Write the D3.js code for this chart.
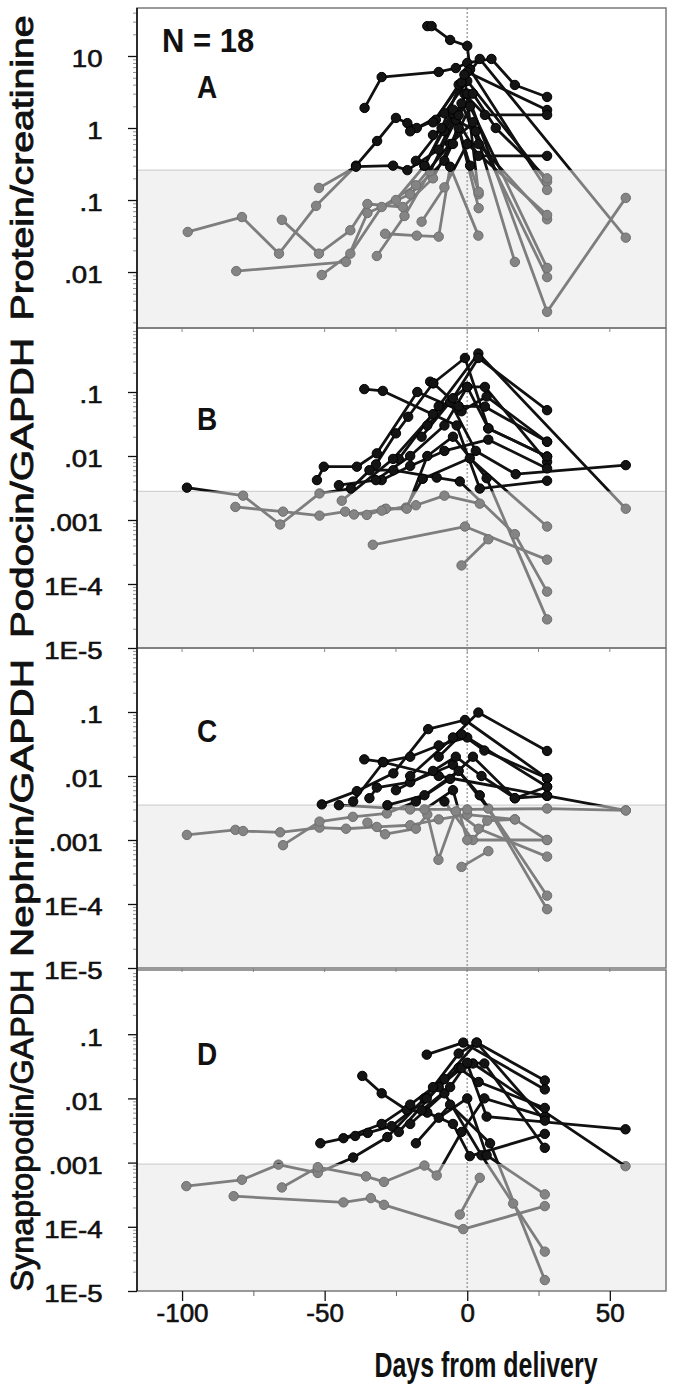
<!DOCTYPE html>
<html>
<head>
<meta charset="utf-8">
<script src="https://cdn.jsdelivr.net/npm/d3@7"></script>
<style>
  body { margin: 0; background: #fff; }
  svg { display: block; font-family: "Liberation Sans", Arial, Helvetica, sans-serif; }
</style>
</head>
<body>
<svg id="chart" width="675" height="1394"></svg>
<script>
// ---- data: one entry per patient, [day from delivery, ratio] ----
const proteinSeries = [
  [[-98, 0.036], [-79, 0.058], [-66, 0.018], [-53, 0.083], [-39, 0.30], [-31.6, 0.66], [-25, 1.38], [-21, 1.17], [-17.7, 1.0], [-8, 1.6], [0, 4.5], [28, 0.18]],
  [[-52, 0.147], [-39, 0.29], [-26, 0.30], [-21, 0.26], [-10, 0.5], [-2, 2.2], [4, 0.6], [28, 0.054]],
  [[-65, 0.053], [-52, 0.018], [-41, 0.038], [-35, 0.088], [-22.6, 0.08], [-12, 0.2], [-3, 1.0], [4, 0.077]],
  [[-81, 0.0103], [-42.5, 0.0138], [-35, 0.066], [-20, 0.12], [-8, 0.35], [1, 2.0], [28, 0.0114]],
  [[-51, 0.0091], [-41, 0.018], [-30, 0.08], [-18, 0.16], [-6, 0.6], [2, 1.2], [16.7, 0.0138]],
  [[-31.7, 0.0167], [-22, 0.06], [-13, 0.25], [-4, 1.3], [3, 0.9], [28, 0.0085]],
  [[-28.8, 0.034], [-17.7, 0.032], [-10, 0.031], [-6, 0.29], [3.9, 0.032]],
  [[-36, 1.9], [-30, 5.1], [-10, 6.0], [-4, 6.8], [0, 8.0], [8.5, 9.1], [16.7, 3.96], [28, 2.7]],
  [[-14, 26], [-12.5, 26], [-6, 16.7], [0, 13.8], [1, 6.5], [28, 0.138]],
  [[-20, 0.9], [-11, 1.3], [-3, 4], [0, 6], [28, 1.78]],
  [[-15, 0.3], [-5, 1.6], [3.9, 0.41], [28, 0.41]],
  [[-5, 0.6], [-1, 3], [6.2, 1.52], [28, 1.52]],
  [[-8, 0.9], [0, 3], [28, 0.0028], [55.6, 0.107]],
  [[-12, 1.2], [-2, 4.3], [4.4, 9.1], [55.6, 0.030]],
  [[-16, 0.05], [-8, 0.15], [0, 0.6], [28, 0.062]],
  [[-18, 0.35], [-9, 1.0], [-1, 5.5], [4, 0.12]],
  [[-25, 0.1], [-15, 0.3], [-5, 1.8], [1, 0.3], [4, 0.13]],
  [[-12, 0.8], [-3, 1.5], [2, 3], [10, 1.0], [28, 0.2]]
];

const podocinSeries = [
  [[-98.3, 0.0032], [-78.6, 0.0024], [-65.6, 0.00085], [-51.8, 0.0026], [-40.8, 0.0031], [-32, 0.0074], [-25, 0.0226], [-20.7, 0.041], [-12, 0.137], [-0.8, 0.34], [7.4, 0.027], [28, 0.0098]],
  [[-81.3, 0.0016], [-64.6, 0.00135], [-51.8, 0.00117], [-42.8, 0.00135], [-35.2, 0.0012], [-28.8, 0.00148], [-21.5, 0.00156], [-15.6, 0.0044], [0.9, 0.0092], [28, 0.00079]],
  [[-52.7, 0.0042], [-50.3, 0.0068], [-38.7, 0.0068], [-31.7, 0.011], [-17.5, 0.1], [-2, 0.05], [6.8, 0.085], [28, 0.0167]],
  [[-36.1, 0.111], [-29.6, 0.104], [-3.7, 0.03], [4.4, 0.0031], [28, 0.0041]],
  [[-33.1, 0.00041], [-0.8, 0.00079], [28, 0.00024]],
  [[-2, 0.000195], [7.4, 0.0005]],
  [[-34.3, 0.006], [-25.9, 0.006], [-10.7, 0.0046], [-2.6, 0.004], [16.7, 0.0006], [28, 0.000076]],
  [[-39.7, 0.00122], [-28.5, 0.0015], [-21.2, 0.0015], [-14, 0.01], [-5, 0.02], [6.8, 0.0045], [28, 0.000028]],
  [[-16, 0.02], [-6, 0.07], [3, 0.012], [17, 0.0052], [55.6, 0.0072]],
  [[-24, 0.009], [-10, 0.06], [3.9, 0.40], [55.6, 0.0015]],
  [[-14, 0.03], [-5, 0.08], [3.9, 0.34], [28, 0.052]],
  [[-44, 0.002], [-26, 0.009], [-12, 0.045], [0, 0.12], [6.2, 0.12], [28, 0.0081]],
  [[-30, 0.0042], [-20, 0.007], [-8, 0.012], [7.4, 0.018], [28, 0.0064]],
  [[-30, 0.0014], [-18, 0.0017], [-8, 0.0024], [4.4, 0.0018]],
  [[-13, 0.145], [-11.9, 0.137], [-3, 0.06], [6.2, 0.059], [28, 0.0167]],
  [[-45, 0.0035], [-32, 0.0042], [-20, 0.01], [-8, 0.03], [0, 0.12], [7.4, 0.027], [28, 0.0098]]
];

const nephrinSeries = [
  [[-98.3, 0.0012], [-81.3, 0.00144], [-78.6, 0.00138], [-65.6, 0.00132], [-51.8, 0.00156], [-42.5, 0.0015], [-31.7, 0.0016], [-20, 0.0017], [-10, 0.0021], [0, 0.0025], [16.7, 0.0021], [28, 0.001]],
  [[-64.6, 0.00083], [-51.8, 0.00194], [-40.1, 0.0023], [-28.2, 0.0026], [-18, 0.004], [-6, 0.009], [2, 0.02], [16.7, 0.0045], [28, 0.0049]],
  [[-51, 0.0036], [-38.7, 0.0058], [-25.9, 0.011], [-13.7, 0.054], [-0.8, 0.075], [28, 0.0092]],
  [[-36.1, 0.0182], [-29.6, 0.0166], [-20, 0.02], [-10, 0.03], [0, 0.04], [28, 0.0068]],
  [[-35, 0.00187], [-28.8, 0.00123], [-18, 0.0015], [-14, 0.0025], [-10.1, 0.00049], [-4, 0.0028], [4, 0.0015], [28, 0.00055]],
  [[-2, 0.00038], [7.4, 0.00067]],
  [[-34.3, 0.0045], [-31.7, 0.0066], [-20, 0.008], [-5, 0.015], [4.4, 0.005], [28, 0.000135]],
  [[-28, 0.0035], [-15, 0.005], [-3, 0.012], [7.4, 0.0031], [28, 0.000083]],
  [[-40, 0.004], [-29.4, 0.0164], [-10, 0.01], [28, 0.0049], [55.6, 0.0029]],
  [[-45, 0.0035], [-20, 0.003], [0, 0.003], [28, 0.0031], [55.6, 0.0029]],
  [[-20, 0.01], [-5, 0.04], [3.9, 0.098], [28, 0.0246]],
  [[-10, 0.02], [-2, 0.045], [6, 0.025], [28, 0.0092]],
  [[-8, 0.004], [2, 0.001], [7, 0.002], [16.7, 0.0021]],
  [[-15, 0.003], [-5, 0.006], [0, 0.001], [28, 0.001]],
  [[-25, 0.006], [-12, 0.012], [-4, 0.02], [5, 0.01], [16.7, 0.0045], [28, 0.0068]]
];

const synaptopodinSeries = [
  [[-98.5, 0.00043], [-79, 0.00054], [-66.2, 0.00093], [-52.4, 0.00069], [-40, 0.0012], [-28, 0.0025], [-15, 0.01], [-3, 0.05], [3.3, 0.074], [27.2, 0.019]],
  [[-81.9, 0.0003], [-43.4, 0.00024], [-33.8, 0.00028], [-29.2, 0.00022], [-1.4, 0.000092], [27.2, 0.00021]],
  [[-65, 0.00041], [-52.4, 0.00085], [-35.5, 0.00061], [-29.2, 0.0005], [-15, 0.0009], [-10.7, 0.00063], [-2, 0.003], [6, 0.01], [27.2, 0.0052]],
  [[-51.5, 0.002], [-39.3, 0.0026], [-34.9, 0.0029], [-26.5, 0.0037], [-14.2, 0.01], [-3, 0.03], [4, 0.018], [27.2, 0.0071]],
  [[-36.8, 0.0224], [-30, 0.012], [-21.2, 0.0066], [-14, 0.006], [-5, 0.004], [0.9, 0.00126], [27.2, 0.0028]],
  [[-2.6, 0.000155], [4.4, 0.00058]],
  [[-14.2, 0.048], [-1.4, 0.074], [27.2, 0.0138]],
  [[-20, 0.004], [-8, 0.012], [5, 0.0013], [16.1, 0.00023], [27.2, 0.000041]],
  [[-18, 0.002], [-6, 0.008], [8, 0.002], [27.2, 0.0000148]],
  [[-24, 0.003], [-10, 0.015], [0, 0.035], [6.8, 0.0052], [55.5, 0.0033]],
  [[-12, 0.015], [-2, 0.03], [2, 0.035], [55.5, 0.00088]],
  [[-10, 0.005], [0, 0.01], [6.8, 0.0013], [27.2, 0.00032]],
  [[-43.4, 0.0024], [-30, 0.004], [-20, 0.008], [-8, 0.02], [3.3, 0.074], [27.2, 0.0045]],
  [[-16, 0.0065], [-6, 0.015], [0, 0.036], [6, 0.035], [27.2, 0.0017]]
];

const panelTitles = ["Protein/creatinine", "Podocin/GAPDH", "Nephrin/GAPDH", "Synaptopodin/GAPDH"];
const panelLetters = ["A", "B", "C", "D"];
const thresholds = [0.26, 0.0028, 0.0035, 0.00095];
const yTickValues = [[10, 1, 0.1, 0.01], [0.1, 0.01, 0.001, 1e-4, 1e-5], [0.1, 0.01, 0.001, 1e-4, 1e-5], [0.1, 0.01, 0.001, 1e-4, 1e-5]];
const yTickLabels = [["10", "1", ".1", ".01"], [".1", ".01", ".001", "1E-4", "1E-5"], [".1", ".01", ".001", "1E-4", "1E-5"], [".1", ".01", ".001", "1E-4", "1E-5"]];
const xTicks = [-100, -50, 0, 50];
const xMinorTicks = [-75, -25, 25];
const xTickLabels = ["-100", "-50", "0", "50"];
const sampleCount = "N = 18";
const xTitle = "Days from delivery";

// ---- layout ----
const svg = d3.select("#chart");
const plotLeft = 137, plotRight = 666;
const panelBoxes = [[8, 328], [328, 648], [648, 968], [970, 1291]];
const panelDomains = [[0.00167, 46.4], [1e-5, 1], [1e-5, 1], [1e-5, 1]];
const titleLengths = [305, 300, 298, 322];
const letterBaselines = [98, 430, 742, 1065];
const panelSeries = [proteinSeries, podocinSeries, nephrinSeries, synaptopodinSeries];
const ink = "#111";

const x = d3.scaleLinear().domain([-115.8, 69.7]).range([plotLeft, plotRight]);
const defs = svg.append("defs");

function minorTicks(domain) {
  const out = [];
  const lo = Math.floor(Math.log10(domain[0])), hi = Math.ceil(Math.log10(domain[1]));
  for (let e = lo; e <= hi; e++) {
    for (let k = 2; k <= 9; k++) {
      const v = k * Math.pow(10, e);
      if (v > domain[0] && v < domain[1]) out.push(v);
    }
  }
  return out;
}

panelBoxes.forEach(([top, bottom], i) => {
  const y = d3.scaleLog().domain(panelDomains[i]).range([bottom, top]);
  const thr = thresholds[i];
  const ty = y(thr);
  const w = plotRight - plotLeft;
  const g = svg.append("g");

  defs.append("clipPath").attr("id", "above" + i)
    .append("rect").attr("x", plotLeft).attr("y", top).attr("width", w).attr("height", ty - top);
  defs.append("clipPath").attr("id", "below" + i)
    .append("rect").attr("x", plotLeft).attr("y", ty).attr("width", w).attr("height", bottom - ty);

  // shaded "normal" range
  g.append("rect").attr("x", plotLeft).attr("y", ty).attr("width", w).attr("height", bottom - ty)
    .attr("fill", "#f2f2f2");
  g.append("line").attr("x1", plotLeft).attr("x2", plotRight).attr("y1", ty).attr("y2", ty)
    .attr("stroke", "#d2d2d2").attr("stroke-width", 1.2);

  // delivery day reference
  g.append("line").attr("x1", x(0)).attr("x2", x(0)).attr("y1", top).attr("y2", bottom)
    .attr("stroke", "#a8a8a8").attr("stroke-width", 1.6).attr("stroke-dasharray", "2,2");

  const line = d3.line().x(d => x(d[0])).y(d => y(d[1]));
  const series = panelSeries[i];
  const pts = series.flat();

  g.append("g").attr("clip-path", `url(#below${i})`)
    .selectAll("path").data(series).join("path")
    .attr("d", line).attr("fill", "none").attr("stroke", "#7e7e7e").attr("stroke-width", 2.8)
    .attr("stroke-linejoin", "round");
  g.append("g").selectAll("circle").data(pts.filter(p => p[1] < thr)).join("circle")
    .attr("cx", d => x(d[0])).attr("cy", d => y(d[1])).attr("r", 4.7)
    .attr("fill", "#848484").attr("stroke", "#6e6e6e").attr("stroke-width", 1);
  g.append("g").attr("clip-path", `url(#above${i})`)
    .selectAll("path").data(series).join("path")
    .attr("d", line).attr("fill", "none").attr("stroke", ink).attr("stroke-width", 2.8)
    .attr("stroke-linejoin", "round");
  g.append("g").selectAll("circle").data(pts.filter(p => p[1] >= thr)).join("circle")
    .attr("cx", d => x(d[0])).attr("cy", d => y(d[1])).attr("r", 4.7)
    .attr("fill", "#141414").attr("stroke", "#000").attr("stroke-width", 1);

  // frame
  g.append("rect").attr("x", plotLeft).attr("y", top).attr("width", w).attr("height", bottom - top)
    .attr("fill", "none").attr("stroke", "#7a7a7a").attr("stroke-width", 1.5);

  // small day ticks along the lower edge
  if (i < 3) {
    g.selectAll(".dtick").data(xTicks.concat(xMinorTicks)).join("line")
      .attr("x1", d => x(d)).attr("x2", d => x(d)).attr("y1", bottom).attr("y2", bottom + 4)
      .attr("stroke", "#888").attr("stroke-width", 1);
  }

  // y axis: labels drawn a little wide, like the original
  const ax = g.append("g").attr("transform", `translate(${plotLeft},0)`)
    .call(d3.axisLeft(y).tickValues(yTickValues[i]).tickFormat((d, j) => yTickLabels[i][j])
      .tickSize(9).tickPadding(21));
  ax.select(".domain").remove();
  ax.selectAll("line").attr("stroke", ink).attr("stroke-width", 1.3);
  ax.selectAll("text").attr("font-size", 24).attr("fill", ink)
    .attr("stroke", ink).attr("stroke-width", 0.6)
    .attr("font-family", "'Liberation Sans', Arial, sans-serif")
    .attr("dy", "0.45em")
    .attr("transform", "scale(1.15,1)");

  const mx = g.append("g").attr("transform", `translate(${plotLeft},0)`)
    .call(d3.axisLeft(y).tickValues(minorTicks(panelDomains[i])).tickFormat("").tickSize(4));
  mx.select(".domain").remove();
  mx.selectAll("line").attr("stroke", "#777").attr("stroke-width", 0.8);

  // axis title
  svg.append("text")
    .attr("transform", `translate(33,${(top + bottom) / 2}) rotate(-90)`)
    .attr("text-anchor", "middle").attr("font-size", 31).attr("fill", ink)
    .attr("stroke", ink).attr("stroke-width", 0.9)
    .attr("textLength", titleLengths[i]).attr("lengthAdjust", "spacingAndGlyphs")
    .text(panelTitles[i]);

  // panel letter
  svg.append("text")
    .attr("transform", `translate(197,${letterBaselines[i]}) scale(1,1.15)`)
    .attr("font-size", 28).attr("font-weight", "bold").attr("fill", ink)
    .text(panelLetters[i]);
});

// left axis line
svg.append("line").attr("x1", plotLeft).attr("x2", plotLeft).attr("y1", 8).attr("y2", 1291)
  .attr("stroke", ink).attr("stroke-width", 1.6);

// x axis
const xa = svg.append("g").attr("transform", "translate(0,1291)")
  .call(d3.axisBottom(x).tickValues(xTicks).tickFormat((d, j) => xTickLabels[j]).tickSize(10).tickPadding(3));
xa.select(".domain").remove();
xa.selectAll("line").attr("stroke", ink).attr("stroke-width", 1.3);
xa.selectAll("text").attr("font-size", 26).attr("fill", ink)
  .attr("stroke", ink).attr("stroke-width", 0.6)
  .attr("font-family", "'Liberation Sans', Arial, sans-serif");
const xm = svg.append("g").attr("transform", "translate(0,1291)")
  .call(d3.axisBottom(x).tickValues(xMinorTicks).tickFormat("").tickSize(5));
xm.select(".domain").remove();
xm.selectAll("line").attr("stroke", "#666").attr("stroke-width", 1);

svg.append("text")
  .attr("transform", "translate(486,1377) scale(1,1.3)")
  .attr("text-anchor", "middle").attr("font-size", 27).attr("font-weight", "bold").attr("fill", ink)
  .attr("textLength", 223).attr("lengthAdjust", "spacingAndGlyphs")
  .text(xTitle);

svg.append("text")
  .attr("transform", "translate(162,52) scale(1,1.1)")
  .attr("font-size", 31).attr("font-weight", "bold").attr("fill", ink)
  .text(sampleCount);
</script>
</body>
</html>
